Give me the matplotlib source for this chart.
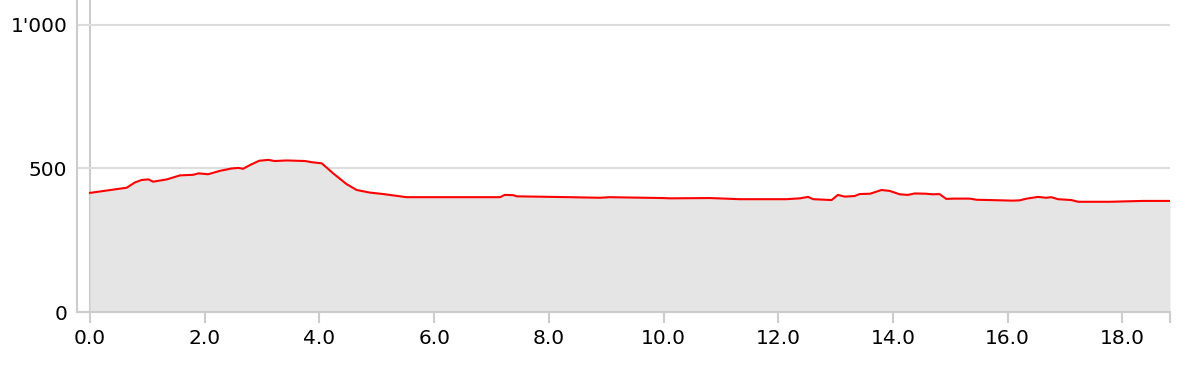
import matplotlib
matplotlib.use("Agg")
import matplotlib.pyplot as plt
from matplotlib.ticker import FuncFormatter

# distance (km) and elevation (m)
dist = [0.00, 0.64, 0.78, 0.90, 1.02, 1.10, 1.34, 1.57, 1.80, 1.89, 2.06, 2.27,
        2.47, 2.59, 2.67, 2.79, 2.95, 3.11, 3.22, 3.43, 3.75, 3.86, 4.04, 4.24,
        4.47, 4.65, 4.88, 5.11, 5.52, 6.04, 7.15, 7.23, 7.38, 7.44, 8.37, 8.89,
        9.06, 9.99, 10.11, 10.81, 11.33, 12.14, 12.38, 12.52, 12.61, 12.93, 13.04,
        13.16, 13.33, 13.42, 13.60, 13.80, 13.94, 14.12, 14.26, 14.38, 14.58, 14.70,
        14.81, 14.93, 15.05, 15.34, 15.46, 15.69, 16.09, 16.21, 16.33, 16.53, 16.67,
        16.76, 16.88, 17.11, 17.23, 17.78, 18.36, 18.83]
elev = [415, 433, 451, 460, 462, 454, 462, 476, 478, 483, 480, 492,
        500, 502, 499, 512, 527, 530, 526, 528, 526, 522, 518, 483,
        446, 425, 416, 411, 400, 400, 400, 408, 407, 403, 400, 398,
        400, 397, 396, 397, 393, 393, 396, 401, 393, 390, 408,
        402, 404, 411, 412, 425, 422, 410, 408, 413, 412, 410,
        411, 394, 395, 395, 391, 390, 388, 389, 395, 401, 398,
        400, 393, 390, 384, 384, 387, 387]

xticks = [0, 2, 4, 6, 8, 10, 12, 14, 16, 18]
yticks = [0, 500, 1000]

fig = plt.figure(figsize=(11.94, 3.68), dpi=100)
ax = fig.add_axes([77 / 1194, 56 / 368, 1093 / 1194, 312 / 368])

ax.fill_between(dist, 0, elev, color="#e5e5e5", lw=0)
ax.plot(dist, elev, color="red", lw=1.5)

ax.set_xlim(-0.227, dist[-1])
ax.set_ylim(0, 1087)

ax.axvline(0, color="#cccccc", lw=1.5, zorder=0)
for y in yticks[1:]:
    ax.axhline(y, color="#dddddd", lw=1.5, zorder=0)

ax.set_xticks(xticks)
ax.set_xticks([dist[-1]], minor=True)
ax.xaxis.set_major_formatter(FuncFormatter(lambda v, p: f"{v:.1f}"))
ax.set_yticks(yticks)
ax.yaxis.set_major_formatter(FuncFormatter(lambda v, p: f"{int(v):,}".replace(",", "'")))

ax.tick_params(axis="x", which="both", length=8, width=1.5, color="#cccccc",
               labelsize=14.5, pad=4)
ax.tick_params(axis="y", length=0, labelsize=14.5, pad=7)

for side in ["top", "right"]:
    ax.spines[side].set_visible(False)
for side in ["left", "bottom"]:
    ax.spines[side].set_color("#cccccc")
    ax.spines[side].set_linewidth(1.5)

fig.savefig("out.png", dpi=100)
